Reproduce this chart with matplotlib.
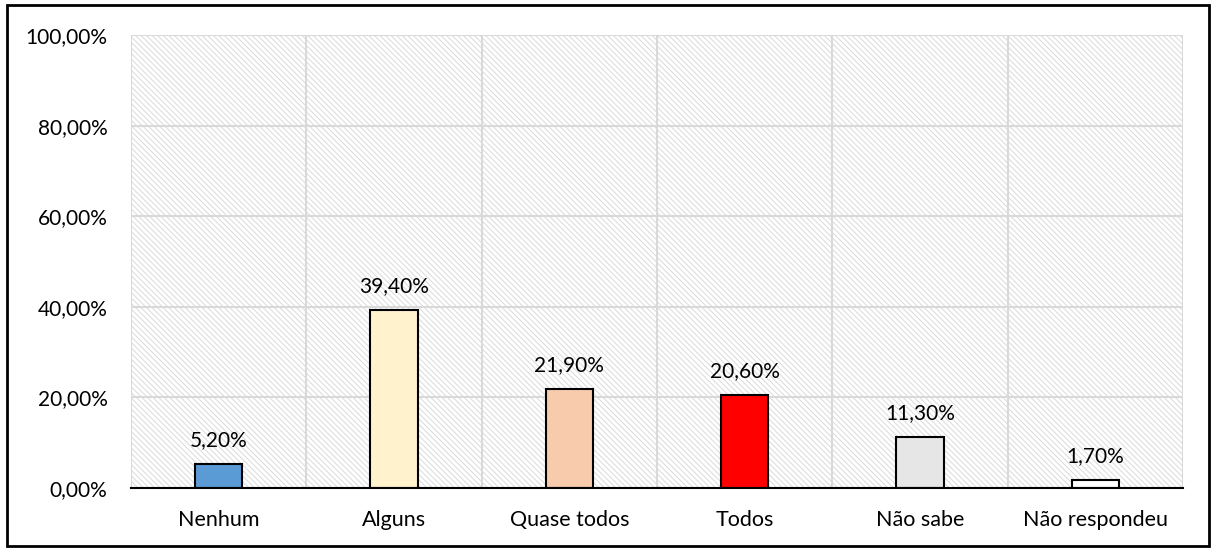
import numpy as np
import matplotlib.pyplot as plt
from matplotlib.patches import Rectangle

# categories and shares (%)
categories = ['Nenhum', 'Alguns', 'Quase todos', 'Todos', 'Não sabe', 'Não respondeu']
values = [5.2, 39.4, 21.9, 20.6, 11.3, 1.7]
colors = ['#5B9BD5', '#FFF2CC', '#F8CBAD', '#FF0000', '#E7E6E6', '#FFFFFF']
yticks = [0, 20, 40, 60, 80, 100]

plt.rcParams['font.family'] = ['Lato', 'DejaVu Sans']
plt.rcParams['hatch.color'] = '#DADADA'
plt.rcParams['hatch.linewidth'] = 0.7


def pt(v):
    return f'{v:.2f}'.replace('.', ',') + '%'


fig = plt.figure(figsize=(12.11, 5.48), dpi=100)
ax = fig.add_axes([131/1211, 1 - 488/548, (1183 - 131)/1211, (488 - 35)/548])

x = np.arange(len(categories))
ax.set_xlim(-0.5, len(categories) - 0.5)
ax.set_ylim(0, 100)

# hatched plot area background
ax.add_patch(Rectangle((0, 0), 1, 1, transform=ax.transAxes, facecolor='white',
                       hatch='\\\\\\\\\\\\', edgecolor='#DADADA', linewidth=0, zorder=0))

# grid
for y in yticks[1:]:
    ax.axhline(y, color='#D9D9D9', lw=1.5, zorder=1)
for b in np.arange(-0.5, len(categories), 1.0):
    ax.axvline(b, color='#D9D9D9', lw=1.5, zorder=1)

bars = ax.bar(x, values, width=0.27, color=colors, edgecolor='black', linewidth=1.5, zorder=3)
for xi, v in zip(x, values):
    ax.annotate(pt(v), (xi, v), xytext=(0, 10), textcoords='offset points',
                ha='center', va='bottom', fontsize=15)

for s in ['left', 'top', 'right']:
    ax.spines[s].set_visible(False)
ax.spines['bottom'].set_linewidth(1.5)
ax.spines['bottom'].set_zorder(4)

ax.set_yticks(yticks)
ax.set_yticklabels([pt(v) for v in yticks], fontsize=15)
ax.set_xticks(x)
ax.set_xticklabels(categories, fontsize=15.5)
ax.tick_params(length=0)
ax.tick_params(axis='x', pad=16)
ax.tick_params(axis='y', pad=17)

# chart border
fig.add_artist(Rectangle((7/1211, 0.004), 1202/1211, 1 - 5/548 - 0.004, transform=fig.transFigure,
                         fill=False, edgecolor='black', linewidth=2))

fig.savefig('out.png', dpi=100)
